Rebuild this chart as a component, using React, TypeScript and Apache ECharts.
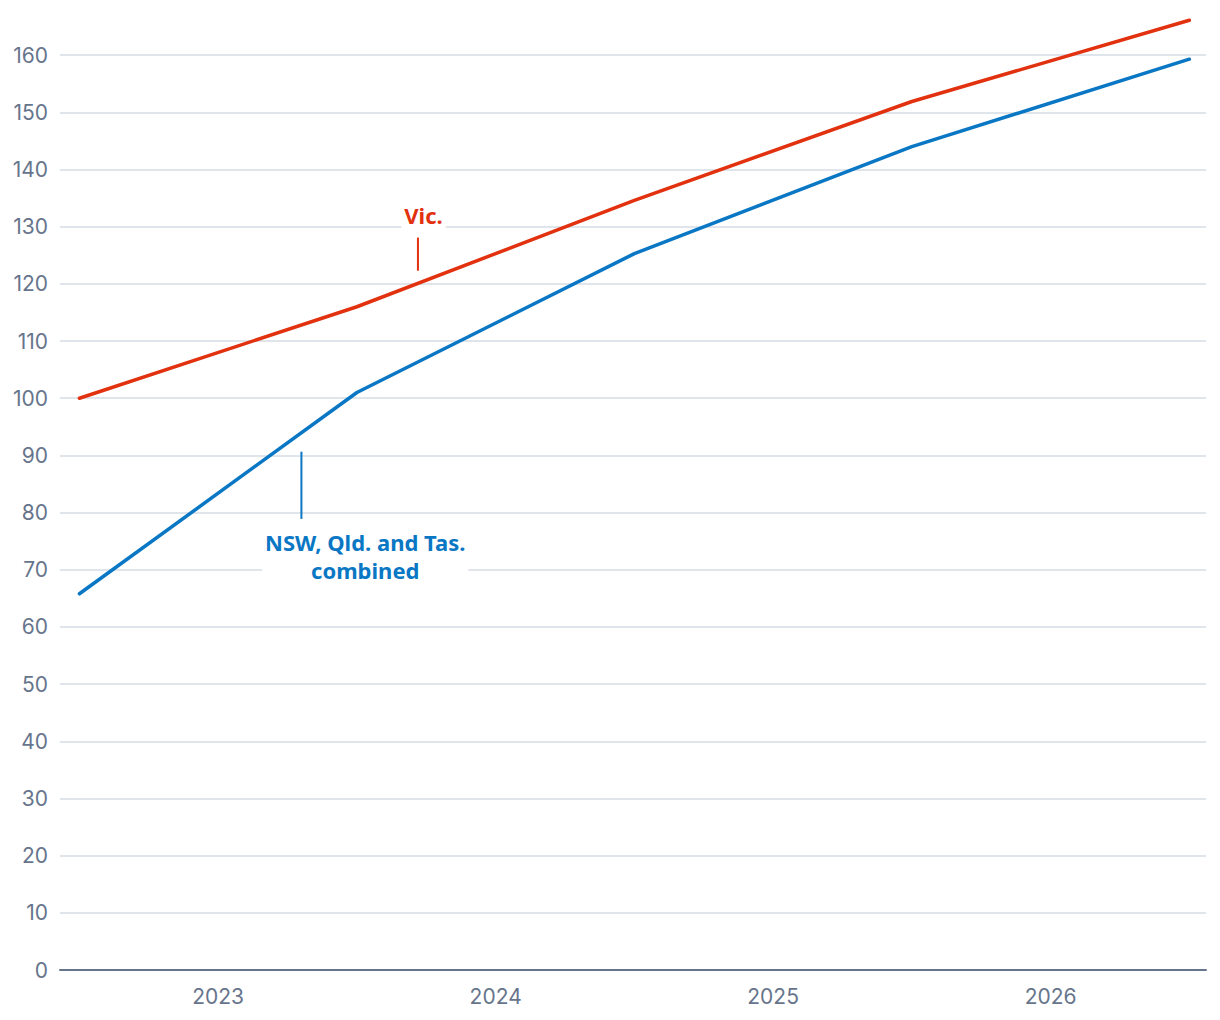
import React, { useEffect, useRef } from "react";
import * as echarts from "echarts";

const years = [2022.5, 2023.5, 2024.5, 2025.5, 2026.5];
const vicValues = [100, 116, 134.6, 151.9, 166.1];
const nswValues = [65.8, 101, 125.3, 144, 159.3];
const xTickLabels = [2023, 2024, 2025, 2026];

const RED = "#e2310f";
const BLUE = "#0a77c4";
const AXIS_TEXT = "#67758c";

export default function App() {
  const ref = useRef<HTMLDivElement>(null);
  useEffect(() => {
    document.body.style.margin = "0";
    const chart = echarts.init(ref.current!, null, { renderer: "svg" });
    const option: any = {
      animation: false,
      backgroundColor: "#ffffff",
      grid: { left: 60, right: 14, top: 0, bottom: 50, containLabel: false },
      xAxis: {
        type: "value",
        min: 2022.43,
        max: 2026.56,
        splitLine: { show: false },
        axisTick: { show: false },
        axisLine: { show: true, lineStyle: { color: "#67758c", width: 2 } },
        axisLabel: {
          customValues: xTickLabels,
          color: AXIS_TEXT,
          fontSize: 21,
          fontFamily: "Inter",
          margin: 16,
          formatter: (v: number) => String(v),
        },
      },
      yAxis: {
        type: "value",
        min: 0,
        max: 170,
        interval: 10,
        axisLine: { show: false },
        axisTick: { show: false },
        splitLine: { lineStyle: { color: "#d6dbe5", width: 1.5 } },
        axisLabel: {
          color: AXIS_TEXT,
          fontSize: 21,
          fontFamily: "Inter",
          margin: 12,
          showMaxLabel: false,
        },
      },
      series: [
        {
          name: "Vic.",
          type: "line",
          data: years.map((y, i) => [y, vicValues[i]]),
          symbol: "none",
          lineStyle: { color: RED, width: 3.5, cap: "round" },
          z: 3,
        },
        {
          name: "NSW, Qld. and Tas. combined",
          type: "line",
          data: years.map((y, i) => [y, nswValues[i]]),
          symbol: "none",
          lineStyle: { color: BLUE, width: 3.5, cap: "round" },
          z: 3,
        },
      ],
    };
    chart.setOption(option);

    const px = (x: number, y: number) => chart.convertToPixel({ gridIndex: 0 }, [x, y]) as number[];
    const vicTickTop = px(2023.72, 128.1);
    const vicTickBot = px(2023.72, 122.3);
    const vicLabel = px(2023.74, 132.0);
    const nswTickTop = px(2023.3, 90.65);
    const nswTickBot = px(2023.3, 78.9);
    const nswLabel = px(2023.53, 72.45);

    chart.setOption({
      graphic: [
        {
          type: "line",
          shape: { x1: vicTickTop[0], y1: vicTickTop[1], x2: vicTickBot[0], y2: vicTickBot[1] },
          style: { stroke: RED, lineWidth: 2 },
          z: 10,
        },
        {
          type: "text",
          x: vicLabel[0],
          y: vicLabel[1],
          style: {
            text: "Vic.",
            fill: RED,
            font: "bold 22px 'Noto Sans'",
            align: "center",
            verticalAlign: "middle",
            backgroundColor: "#ffffff",
            padding: [2, 3],
          },
          z: 10,
        },
        {
          type: "line",
          shape: { x1: nswTickTop[0], y1: nswTickTop[1], x2: nswTickBot[0], y2: nswTickBot[1] },
          style: { stroke: BLUE, lineWidth: 2 },
          z: 10,
        },
        {
          type: "text",
          x: nswLabel[0],
          y: nswLabel[1],
          style: {
            text: "NSW, Qld. and Tas.\ncombined",
            fill: BLUE,
            font: "bold 22px 'Noto Sans'",
            lineHeight: 28,
            align: "center",
            verticalAlign: "middle",
            backgroundColor: "#ffffff",
            padding: [0, 3],
          },
          z: 10,
        },
      ],
    });
    return () => chart.dispose();
  }, []);
  return <div ref={ref} style={{ position: "absolute", left: 0, top: -2, width: 1220, height: 1022 }} />;
}
